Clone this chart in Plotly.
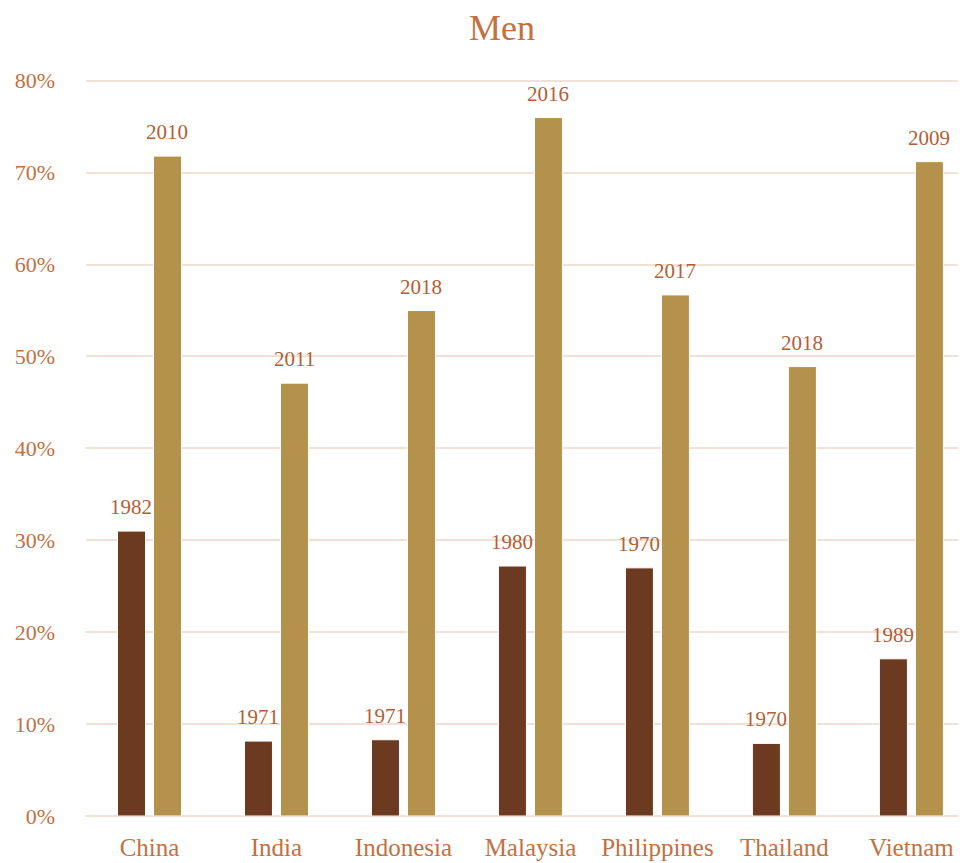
import plotly.graph_objects as go

countries = ["China", "India", "Indonesia", "Malaysia", "Philippines", "Thailand", "Vietnam"]
early_values = [31.0, 8.15, 8.3, 27.2, 27.0, 7.9, 17.1]
early_years = ["1982", "1971", "1971", "1980", "1970", "1970", "1989"]
late_values = [71.8, 47.1, 55.0, 76.0, 56.7, 48.9, 71.2]
late_years = ["2010", "2011", "2018", "2016", "2017", "2018", "2009"]
y_ticks = [0, 10, 20, 30, 40, 50, 60, 70, 80]
y_tick_labels = [f"{v}%" for v in y_ticks]
title_text = "Men"

FONT = "Liberation Serif"
TXT = "#C4703F"
LBL = "#B35E34"

fig = go.Figure()
series = [(early_values, early_years, "#6B3A21", -18), (late_values, late_years, "#B5924C", 18)]
for vals, yrs, col, shift in series:
    fig.add_trace(go.Bar(
        x=countries, y=vals,
        marker=dict(color=col, line=dict(color="#FFFFFF", width=1)),
    ))
    for c, v, t in zip(countries, vals, yrs):
        fig.add_annotation(x=c, y=v, text=t, showarrow=False, xanchor="center",
                           yanchor="bottom", xshift=shift, yshift=10,
                           font=dict(family=FONT, size=21, color=LBL))

fig.add_annotation(text=title_text, xref="paper", yref="paper", x=0.4727, y=1.068,
                   xanchor="center", yanchor="middle", showarrow=False,
                   font=dict(family=FONT, size=36, color=TXT))

fig.update_layout(
    width=958, height=855,
    barmode="group", bargap=0.433, bargroupgap=0.222,
    showlegend=False,
    paper_bgcolor="white", plot_bgcolor="white",
    margin=dict(l=78, r=0, t=70, b=47),
    xaxis=dict(range=[-0.5, 6.43], showgrid=False, showline=False, ticks="",
               ticklabelstandoff=14,
               tickfont=dict(family=FONT, size=25, color=TXT)),
    yaxis=dict(range=[0, 80.3], tickvals=y_ticks, ticktext=y_tick_labels,
               showgrid=True, gridcolor="#F2E1D7", gridwidth=2,
               zeroline=True, zerolinecolor="#F2E1D7", zerolinewidth=2,
               ticks="", ticklabelstandoff=30,
               tickfont=dict(family=FONT, size=22, color=TXT)),
)

fig.write_html("out.html")
